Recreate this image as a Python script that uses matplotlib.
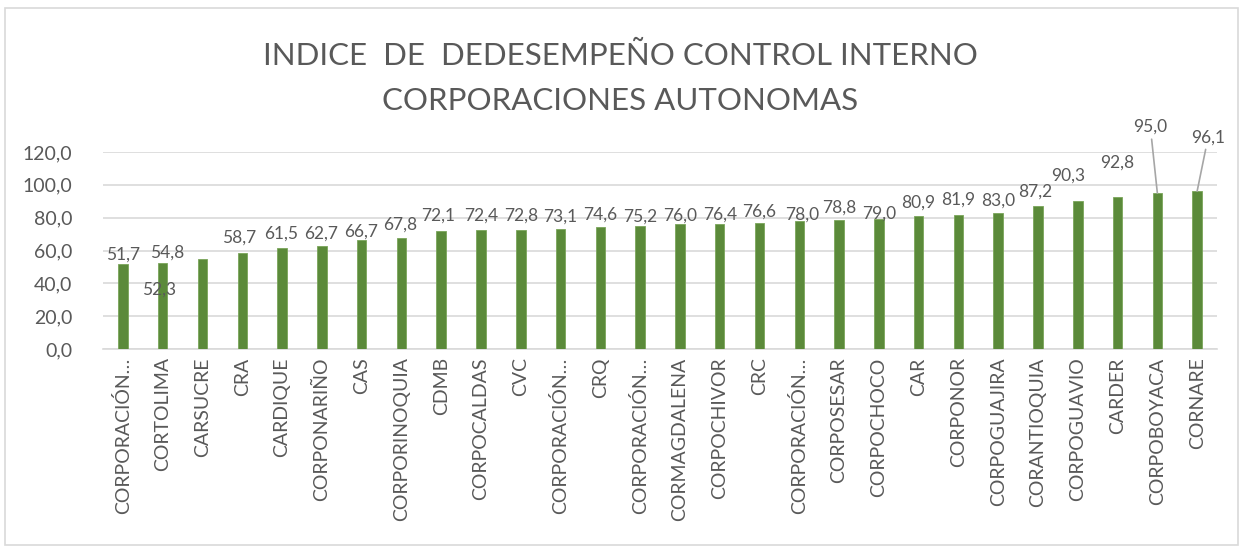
import matplotlib
matplotlib.use("Agg")
import matplotlib.pyplot as plt
from matplotlib.patches import Rectangle

# data
corporaciones = ["CORPORACIÓN…", "CORTOLIMA", "CARSUCRE", "CRA", "CARDIQUE", "CORPONARIÑO",
                 "CAS", "CORPORINOQUIA", "CDMB", "CORPOCALDAS", "CVC", "CORPORACIÓN…",
                 "CRQ", "CORPORACIÓN…", "CORMAGDALENA", "CORPOCHIVOR", "CRC", "CORPORACIÓN…",
                 "CORPOSESAR", "CORPOCHOCO", "CAR", "CORPONOR", "CORPOGUAJIRA", "CORANTIOQUIA",
                 "CORPOGUAVIO", "CARDER", "CORPOBOYACA", "CORNARE"]
indice = [51.7, 52.3, 54.8, 58.7, 61.5, 62.7, 66.7, 67.8, 72.1, 72.4, 72.8, 73.1, 74.6, 75.2,
          76.0, 76.4, 76.6, 78.0, 78.8, 79.0, 80.9, 81.9, 83.0, 87.2, 90.3, 92.8, 95.0, 96.1]
y_ticks = [0, 20, 40, 60, 80, 100, 120]

# label placement (pixels from bar top), mimics excel's shuffled labels
lab_dx = [0, -4, -35, -3, -1, -1, -1, -1, -3, 0, 0, 0, 0, 0, 0, 0, 0, 3, 0, 0, 0, 0, 0, -3, -10, 0, -7, 11]
lab_dy = [10, -26, 6, 15, 14, 12, 8, 13, 15, 15, 14, 12, 12, 9, 9, 9, 12, 6, 12, 6, 14, 15, 12, 14, 25, 34, 66, 54]

txt = "#595959"
plt.rcParams['font.family'] = ['Lato', 'DejaVu Sans']

fig = plt.figure(figsize=(12.43, 5.48), dpi=100)
fig.patches.append(Rectangle((0.004, 0.005), 0.992, 0.98, transform=fig.transFigure,
                             fill=False, edgecolor="#d9d9d9", linewidth=1.2))
ax = fig.add_axes([0.0829, 0.3631, 0.8962, 0.3595])

x = list(range(len(indice)))
ax.bar(x, indice, width=0.24, color="#5b8a3a", edgecolor="#7aa55a", linewidth=0.6, zorder=3)

for i, v in enumerate(indice):
    lbl = f"{v:.1f}".replace(".", ",")
    if i >= 26:
        ax.annotate(lbl, xy=(i, v), xytext=(lab_dx[i], lab_dy[i]), textcoords="offset pixels",
                    ha="center", va="center", fontsize=12.5, color=txt,
                    arrowprops=dict(arrowstyle="-", color="#a6a6a6", lw=1.2,
                                    shrinkA=1, shrinkB=0))
    else:
        ax.annotate(lbl, xy=(i, v), xytext=(lab_dx[i], lab_dy[i]), textcoords="offset pixels",
                    ha="center", va="center", fontsize=12.5, color=txt)

ax.set_xlim(-0.5, len(indice) - 0.5)
ax.set_ylim(0, 120)
ax.set_yticks(y_ticks)
ax.set_yticklabels([f"{t:.1f}".replace(".", ",") for t in y_ticks], fontsize=14, color=txt)
ax.set_xticks(x)
ax.set_xticklabels(corporaciones, rotation=90, fontsize=14, color=txt)
ax.tick_params(length=0, pad=6)
ax.tick_params(axis="y", pad=22)
ax.yaxis.grid(True, color="#d9d9d9", linewidth=1.2, zorder=0)
for s in ["top", "right", "left"]:
    ax.spines[s].set_visible(False)
ax.spines["bottom"].set_color("#d9d9d9")
ax.spines["bottom"].set_linewidth(1.2)

fig.text(0.499, 0.898, "INDICE  DE  DEDESEMPEÑO CONTROL INTERNO", ha="center", va="center",
         fontsize=22.5, color=txt)
fig.text(0.499, 0.816, "CORPORACIONES AUTONOMAS", ha="center", va="center",
         fontsize=22.5, color=txt)

fig.savefig("out.png", dpi=100)
